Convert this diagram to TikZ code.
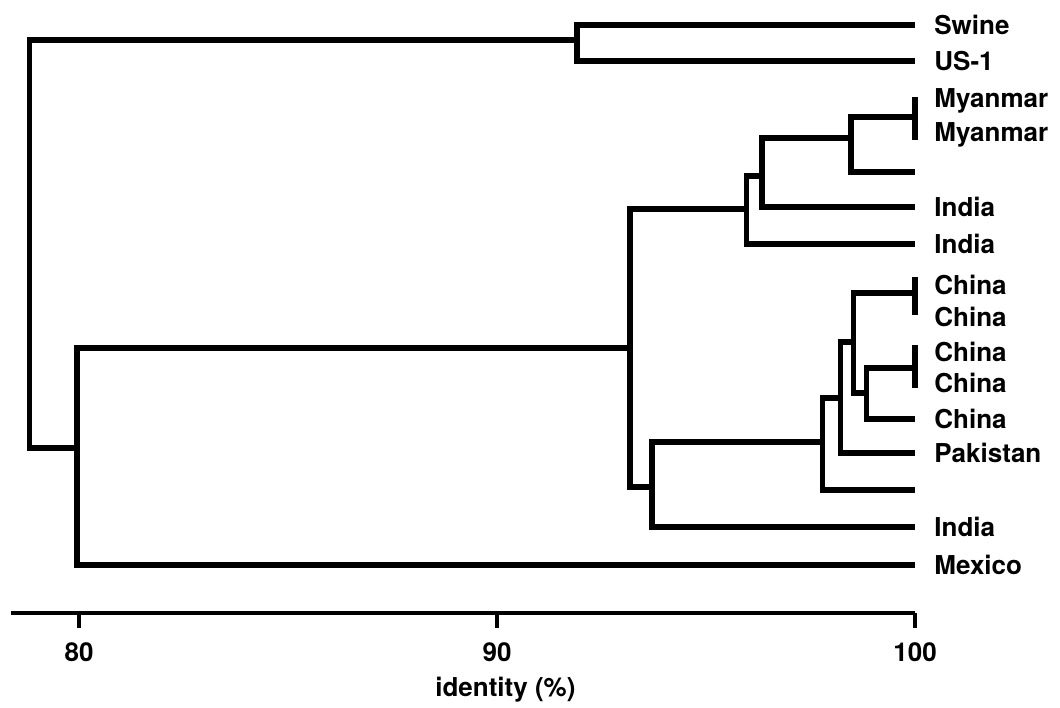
\documentclass[tikz,border=0pt]{standalone}
\usepackage{fontspec}
\setmainfont{TeX Gyre Heros}
\usetikzlibrary{positioning, calc}

\tikzset{
    branch/.style={line width=3pt, line join=miter},
    axisline/.style={line width=2.2pt},
    leaf/.style={anchor=west, inner xsep=0.38cm, inner ysep=0pt, font=\fontsize{14.8}{17}\selectfont\bfseries, text height=10.6pt, text depth=0pt},
    ticklabel/.style={inner sep=0pt, font=\fontsize{14.8}{17}\selectfont\bfseries}
}

\begin{document}
\begin{tikzpicture}[x=0.836cm, y=-0.02cm]
    \useasboundingbox (78.110,0) rectangle (103.469,707);

    % Clusters (x = identity in %, y = row)
    \coordinate (root) at (78.81,245);
    \coordinate (swus) at (91.91,40);
    \coordinate (grpA) at (79.95,448);
    \coordinate (grpB) at (93.18,348);
    \coordinate (asiaA) at (95.96,209);
    \coordinate (asiaB) at (96.34,176);
    \coordinate (myanC) at (98.47,138);
    \coordinate (myanP) at (100,117);
    \coordinate (asiaC) at (93.71,487);
    \coordinate (chinaA) at (97.78,442);
    \coordinate (chinaB) at (98.21,398);
    \coordinate (chinaC) at (98.52,342);
    \coordinate (chinaP1) at (100,293);
    \coordinate (chinaD) at (98.83,393);
    \coordinate (chinaP2) at (100,368);

    % Leaves
    \node[leaf] (swine) at (100,25) {Swine};
    \node[leaf] (usone) at (100,61) {US-1};
    \node[leaf] (myanA) at (100,98) {Myanmar};
    \node[leaf] (myanB) at (100,132) {Myanmar};
    \coordinate (blankA) at (100,172);
    \node[leaf] (indA) at (100,207) {India};
    \node[leaf] (indB) at (100,244) {India};
    \node[leaf] (chiA) at (100,285) {China};
    \node[leaf] (chiB) at (100,317) {China};
    \node[leaf] (chiC) at (100,352) {China};
    \node[leaf] (chiD) at (100,383) {China};
    \node[leaf] (chiE) at (100,419) {China};
    \node[leaf] (pak) at (100,453) {Pakistan};
    \coordinate (blankB) at (100,490);
    \node[leaf] (indC) at (100,527) {India};
    \node[leaf] (mex) at (100,565) {Mexico};

    % Pairs joined at 100 %
    \coordinate (myanT) at (100,97);
    \coordinate (myanBt) at (100,140);
    \coordinate (chinaT1) at (100,277);
    \coordinate (chinaB1) at (100,315);
    \coordinate (chinaT2) at (100,345);
    \coordinate (chinaB2) at (100,388);
    \draw[branch] (myanT) -- (myanBt);
    \draw[branch] (chinaT1) -- (chinaB1);
    \draw[branch] (chinaT2) -- (chinaB2);

    % Branches
    \draw[branch] (root) |- (swus);
    \draw[branch] (root) |- (grpA);
    \draw[branch] (swus) |- (swine.west);
    \draw[branch] (swus) |- (usone.west);
    \draw[branch] (grpA) |- (grpB);
    \draw[branch] (grpA) |- (mex.west);
    \draw[branch] (grpB) |- (asiaA);
    \draw[branch] (grpB) |- (asiaC);
    \draw[branch] (asiaA) |- (asiaB);
    \draw[branch] (asiaA) |- (indB.west);
    \draw[branch] (asiaB) |- (myanC);
    \draw[branch] (asiaB) |- (indA.west);
    \draw[branch] (myanC) |- (myanP);
    \draw[branch] (myanC) |- (blankA);
    \draw[branch] (asiaC) |- (chinaA);
    \draw[branch] (asiaC) |- (indC.west);
    \draw[branch] (chinaA) |- (chinaB);
    \draw[branch] (chinaA) |- (blankB);
    \draw[branch] (chinaB) |- (chinaC);
    \draw[branch] (chinaB) |- (pak.west);
    \draw[branch] (chinaC) |- (chinaP1);
    \draw[branch] (chinaC) |- (chinaD);
    \draw[branch] (chinaD) |- (chinaP2);
    \draw[branch] (chinaD) |- (chiE.west);

    % Axis
    \coordinate (axL) at (78.37,613);
    \coordinate (axR) at (100,613);
    \draw[axisline] (axL) -- (axR);
    \foreach \v in {80,90,100} {
        \draw[axisline] (\v,613) -- (\v,628);
        \node[ticklabel] (t\v) at (\v,652) {\v};
    }
    \node[ticklabel] (idlab) at (90.2,690) {identity (\%)};
\end{tikzpicture}
\end{document}
